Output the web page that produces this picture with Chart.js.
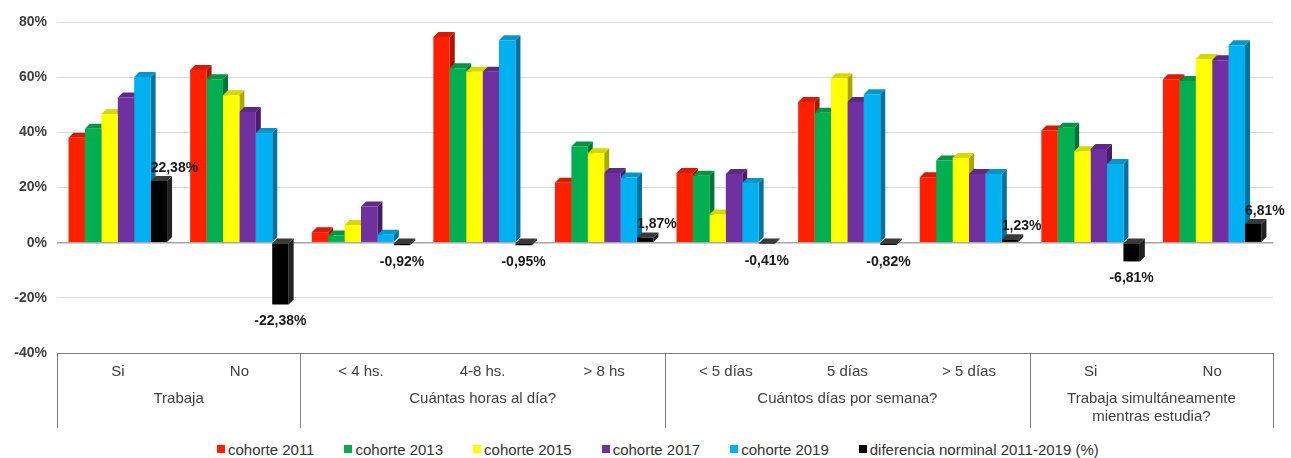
<!DOCTYPE html>
<html lang="es">
<head>
<meta charset="utf-8">
<title>Situación laboral por cohorte</title>
<script src="https://cdn.jsdelivr.net/npm/chart.js@4.4.1/dist/chart.umd.min.js"></script>
<style>
    body { margin: 0; background: #fff; font-family: "Liberation Sans", Arial, sans-serif; }
    #wrap { position: relative; width: 1291px; height: 440px; }
    #legend { display: flex; align-items: center; height: 18px; padding-left: 217px; font-size: 15px; color: #333; }
    #legend .item { display: flex; align-items: center; margin-right: 30px; white-space: nowrap; }
    #legend .box { display: inline-block; width: 8px; height: 8px; margin-right: 3px; }
</style>
</head>
<body>
<div id="wrap"><canvas id="laborChart"></canvas></div>
<div id="legend"></div>
<script>
// Data
const categories = ['Si', 'No', '< 4 hs.', '4-8 hs.', '> 8 hs', '< 5 días', '5 días', '> 5 días', 'Si', 'No'];
const groupLabels = [['Trabaja'], ['Cuántas horas al día?'], ['Cuántos días por semana?'], ['Trabaja simultáneamente', 'mientras estudia?']];
const groupSizes = [2, 3, 3, 2];

const cohorte2011 = [38.0, 62.6, 3.8, 74.6, 21.7, 25.3, 51.0, 23.7, 40.7, 59.2];
const cohorte2013 = [41.3, 59.2, 2.6, 63.2, 34.9, 24.3, 47.1, 29.8, 41.7, 58.6];
const cohorte2015 = [46.6, 53.4, 6.4, 62.0, 32.4, 10.2, 59.6, 30.7, 33.1, 66.6];
const cohorte2017 = [52.6, 47.4, 13.1, 62.0, 25.3, 24.9, 51.0, 24.9, 34.0, 66.1];
const cohorte2019 = [60.1, 39.8, 2.9, 73.4, 23.6, 21.6, 53.8, 24.9, 28.5, 71.6];
const diferencia = [22.38, -22.38, -0.92, -0.95, 1.87, -0.41, -0.82, 1.23, -6.81, 6.81];

const seriesNames = ['cohorte 2011', 'cohorte 2013', 'cohorte 2015', 'cohorte 2017', 'cohorte 2019', 'diferencia norminal 2011-2019 (%)'];
const yTicks = [-40, -20, 0, 20, 40, 60, 80];

// colours: front, top face, side face
const palette = [
    ['#FF2000', '#D81B00', '#A81500'],
    ['#00B050', '#009443', '#00733A'],
    ['#FFFF00', '#D6D600', '#A8A800'],
    ['#7030A0', '#5E2886', '#461E66'],
    ['#00B0F0', '#0096CC', '#00739E'],
    ['#000000', '#3A3A3A', '#222222']
];

const FONT = '"Liberation Sans", Arial, sans-serif';
const fmtPct = v => v.toFixed(2).replace('.', ',') + '%';

// fake 3D extrusion behind each bar
const bar3d = {
    id: 'bar3d',
    beforeDatasetsDraw(chart) {
        const ctx = chart.ctx;
        const d = 5;
        ctx.save();
        chart.data.datasets.forEach((ds, i) => {
            const meta = chart.getDatasetMeta(i);
            if (meta.hidden) return;
            meta.data.forEach(bar => {
                const p = bar.getProps(['x', 'y', 'base', 'width'], true);
                const l = p.x - p.width / 2, r = p.x + p.width / 2;
                const top = Math.min(p.y, p.base), bot = Math.max(p.y, p.base);
                ctx.fillStyle = palette[i][2];
                ctx.beginPath();
                ctx.moveTo(r, top); ctx.lineTo(r + d, top - d); ctx.lineTo(r + d, bot - d); ctx.lineTo(r, bot);
                ctx.closePath(); ctx.fill();
                ctx.fillStyle = palette[i][1];
                ctx.beginPath();
                ctx.moveTo(l, top); ctx.lineTo(l + d, top - d); ctx.lineTo(r + d, top - d); ctx.lineTo(r, top);
                ctx.closePath(); ctx.fill();
            });
        });
        ctx.restore();
    }
};

// value labels on the difference series
const diffLabels = {
    id: 'diffLabels',
    afterDatasetsDraw(chart) {
        const ctx = chart.ctx;
        const meta = chart.getDatasetMeta(5);
        ctx.save();
        ctx.font = 'bold 14px ' + FONT;
        ctx.fillStyle = '#1a1a1a';
        ctx.textBaseline = 'middle';
        meta.data.forEach((bar, j) => {
            const v = diferencia[j];
            const p = bar.getProps(['x', 'y', 'base', 'width'], true);
            if (v >= 0) {
                ctx.textAlign = 'left';
                ctx.fillText(fmtPct(v), p.x - p.width / 2, p.y - 13);
            } else {
                ctx.textAlign = 'center';
                ctx.fillText(fmtPct(v), p.x, p.y + 17);
            }
        });
        ctx.restore();
    }
};

// box lines and group titles under the category axis
const groupAxis = {
    id: 'groupAxis',
    afterDraw(chart) {
        const x = chart.scales.x;
        const ctx = chart.ctx;
        const edge = i => {
            if (i <= 0) return x.left;
            if (i >= categories.length) return x.right;
            return (x.getPixelForValue(i - 1) + x.getPixelForValue(i)) / 2;
        };
        ctx.save();
        ctx.strokeStyle = '#808080';
        ctx.lineWidth = 1;
        ctx.font = '15px ' + FONT;
        ctx.fillStyle = '#404040';
        ctx.textAlign = 'center';
        ctx.textBaseline = 'middle';
        let start = 0;
        const lineAt = px => {
            ctx.beginPath();
            ctx.moveTo(Math.round(px) + 0.5, x.top);
            ctx.lineTo(Math.round(px) + 0.5, x.bottom);
            ctx.stroke();
        };
        lineAt(edge(0));
        groupSizes.forEach((n, g) => {
            const a = edge(start), b = edge(start + n);
            lineAt(b);
            groupLabels[g].forEach((txt, k) => ctx.fillText(txt, (a + b) / 2, x.top + 46 + k * 18));
            start += n;
        });
        ctx.restore();
    }
};

const htmlLegend = {
    id: 'htmlLegend',
    afterUpdate(chart) {
        const box = document.getElementById('legend');
        box.innerHTML = '';
        chart.data.datasets.forEach(ds => {
            const item = document.createElement('span');
            item.className = 'item';
            const sq = document.createElement('span');
            sq.className = 'box';
            sq.style.background = ds.backgroundColor;
            item.appendChild(sq);
            item.appendChild(document.createTextNode(ds.label));
            box.appendChild(item);
        });
    }
};

document.addEventListener('DOMContentLoaded', () => {
    const values = [cohorte2011, cohorte2013, cohorte2015, cohorte2017, cohorte2019, diferencia];
    const ctx = document.getElementById('laborChart').getContext('2d');
    new Chart(ctx, {
        type: 'bar',
        data: {
            labels: categories,
            datasets: values.map((data, i) => ({
                label: seriesNames[i],
                data: data,
                backgroundColor: palette[i][0],
                borderWidth: 0,
                barPercentage: 1,
                categoryPercentage: 0.81
            }))
        },
        options: {
            responsive: true,
            maintainAspectRatio: false,
            animation: false,
            layout: { padding: { top: 22, right: 18, bottom: 12, left: 0 } },
            plugins: {
                legend: { display: false },
                tooltip: { enabled: false }
            },
            scales: {
                y: {
                    min: -40,
                    max: 80,
                    afterBuildTicks: scale => { scale.ticks = yTicks.map(v => ({ value: v })); },
                    afterFit: scale => { scale.width = 57; },
                    border: { display: false },
                    grid: {
                        drawTicks: false,
                        color: c => c.tick && c.tick.value === 0 ? '#a6a6a6' : '#d9d9d9',
                        lineWidth: c => c.tick && c.tick.value === 0 ? 1.5 : 1
                    },
                    ticks: {
                        padding: 10,
                        color: '#404040',
                        font: { family: FONT, size: 14, weight: 'bold' },
                        callback: v => v + '%'
                    }
                },
                x: {
                    afterFit: scale => { scale.height = 75; },
                    border: { display: true, color: '#808080' },
                    grid: { display: false },
                    ticks: {
                        padding: 2,
                        maxRotation: 0,
                        autoSkip: false,
                        color: '#404040',
                        font: { family: FONT, size: 15 }
                    }
                }
            }
        },
        plugins: [bar3d, diffLabels, groupAxis, htmlLegend]
    });
});
</script>
</body>
</html>
